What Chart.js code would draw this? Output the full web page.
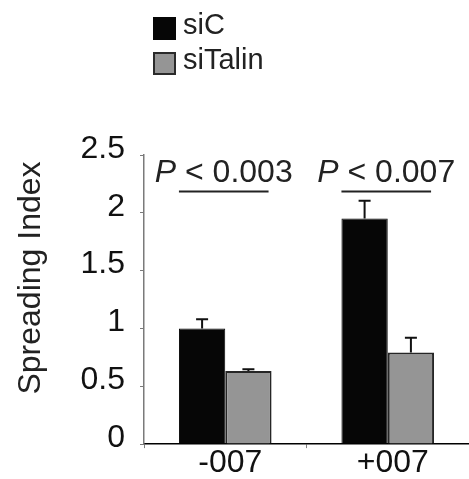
<!DOCTYPE html>
<html>
<head>
<meta charset="utf-8">
<script src="https://cdn.jsdelivr.net/npm/chart.js@4"></script>
<style>
    body { margin: 0; background: #fff; }
    #wrap { position: relative; width: 469px; height: 479px; }
</style>
</head>
<body>
<div id="wrap"><canvas id="chart"></canvas></div>
<script>
const categories = ["-007", "+007"];
const siC = [1.0, 1.95];
const siCErr = [0.08, 0.155];
const siTalin = [0.633, 0.793];
const siTalinErr = [0.014, 0.127];
const yTicks = [0, 0.5, 1, 1.5, 2, 2.5];
const yTickLabels = ["0", "0.5", "1", "1.5", "2", "2.5"];
const yTitle = "Spreading Index";
const pLabels = ["< 0.003", "< 0.007"];
const bracketLevel = 2.19;

const FONT = "'Liberation Sans', Arial, sans-serif";
const errors = [siCErr, siTalinErr];

// error bars, P-value brackets, y title and the stacked legend
const extras = {
    id: "extras",
    afterDatasetsDraw(chart) {
        const ctx = chart.ctx;
        const y = chart.scales.y;
        ctx.save();
        ctx.strokeStyle = "#111";
        ctx.lineWidth = 2;
        chart.data.datasets.forEach((ds, i) => {
            chart.getDatasetMeta(i).data.forEach((bar, j) => {
                const top = y.getPixelForValue(ds.data[j] + errors[i][j]);
                ctx.beginPath();
                ctx.moveTo(bar.x, bar.y);
                ctx.lineTo(bar.x, top);
                ctx.moveTo(bar.x - 6, top);
                ctx.lineTo(bar.x + 6, top);
                ctx.stroke();
            });
        });

        const by = Math.round(y.getPixelForValue(bracketLevel)) + 0.5;
        const m0 = chart.getDatasetMeta(0).data;
        const m1 = chart.getDatasetMeta(1).data;
        categories.forEach((c, j) => {
            const x0 = m0[j].x - m0[j].width / 2;
            const x1 = m1[j].x + m1[j].width / 2 - 3;
            ctx.lineWidth = 2;
            ctx.strokeStyle = "#222";
            ctx.beginPath();
            ctx.moveTo(x0, by);
            ctx.lineTo(x1, by);
            ctx.stroke();

            const cx = (x0 + x1) / 2;
            ctx.fillStyle = "#222";
            ctx.textBaseline = "alphabetic";
            ctx.font = "italic 32px " + FONT;
            const wP = ctx.measureText("P").width;
            ctx.font = "32px " + FONT;
            const rest = " " + pLabels[j];
            const wR = ctx.measureText(rest).width;
            const start = cx - (wP + wR) / 2;
            ctx.textAlign = "left";
            ctx.font = "italic 32px " + FONT;
            ctx.fillText("P", start, by - 10);
            ctx.font = "32px " + FONT;
            ctx.fillText(rest, start + wP, by - 10);
        });

        // y title, sits a little above the middle of the axis
        ctx.save();
        ctx.translate(31, 278);
        ctx.rotate(-Math.PI / 2);
        ctx.fillStyle = "#222";
        ctx.font = "32px " + FONT;
        ctx.textAlign = "center";
        ctx.textBaseline = "middle";
        ctx.fillText(yTitle, 0, 0);
        ctx.restore();

        // legend
        const rows = [17, 52];
        chart.data.datasets.forEach((ds, i) => {
            ctx.fillStyle = ds.backgroundColor;
            ctx.fillRect(153, rows[i], 23, 23);
            if (i === 1) {
                ctx.strokeStyle = "#2a2a2a";
                ctx.lineWidth = 2;
                ctx.strokeRect(154, rows[i] + 1, 21, 21);
            }
            ctx.fillStyle = "#222";
            ctx.font = "29px " + FONT;
            ctx.textAlign = "left";
            ctx.textBaseline = "middle";
            ctx.fillText(ds.label, 183, rows[i] + 9);
        });
        ctx.restore();
    },
};

new Chart(document.getElementById("chart"), {
    type: "bar",
    data: {
        labels: categories,
        datasets: [
            {
                label: "siC",
                data: siC,
                backgroundColor: "#060606",
                borderColor: "#060606",
                borderWidth: 1,
            },
            {
                label: "siTalin",
                data: siTalin,
                backgroundColor: "#959595",
                borderColor: "#262626",
                borderWidth: 2,
            },
        ],
    },
    options: {
        responsive: true,
        maintainAspectRatio: false,
        animation: false,
        categoryPercentage: 0.57,
        barPercentage: 1,
        layout: {
            padding: { top: 155, right: 0, bottom: 0, left: 0 },
        },
        plugins: {
            legend: { display: false },
            tooltip: { enabled: false },
        },
        scales: {
            x: {
                offset: true,
                border: { color: "#000", width: 1.5 },
                grid: {
                    offset: true,
                    drawOnChartArea: false,
                    tickLength: 4,
                    color: "#808080",
                },
                ticks: {
                    color: "#111",
                    padding: 2,
                    labelOffset: 5,
                    font: { family: FONT, size: 32, lineHeight: 0.84 },
                },
            },
            y: {
                min: 0,
                max: 2.5,
                border: { color: "#7a7a7a", width: 1.5 },
                grid: {
                    drawOnChartArea: false,
                    tickLength: 4,
                    color: "#7a7a7a",
                },
                afterBuildTicks: (scale) => {
                    scale.ticks = yTicks.map((v) => ({ value: v }));
                },
                afterFit: (scale) => {
                    scale.width = 144;
                },
                ticks: {
                    color: "#111",
                    padding: 15,
                    labelOffset: -6,
                    font: { family: FONT, size: 32 },
                    callback: (v) => yTickLabels[yTicks.indexOf(v)],
                },
            },
        },
    },
    plugins: [extras],
});
</script>
</body>
</html>
